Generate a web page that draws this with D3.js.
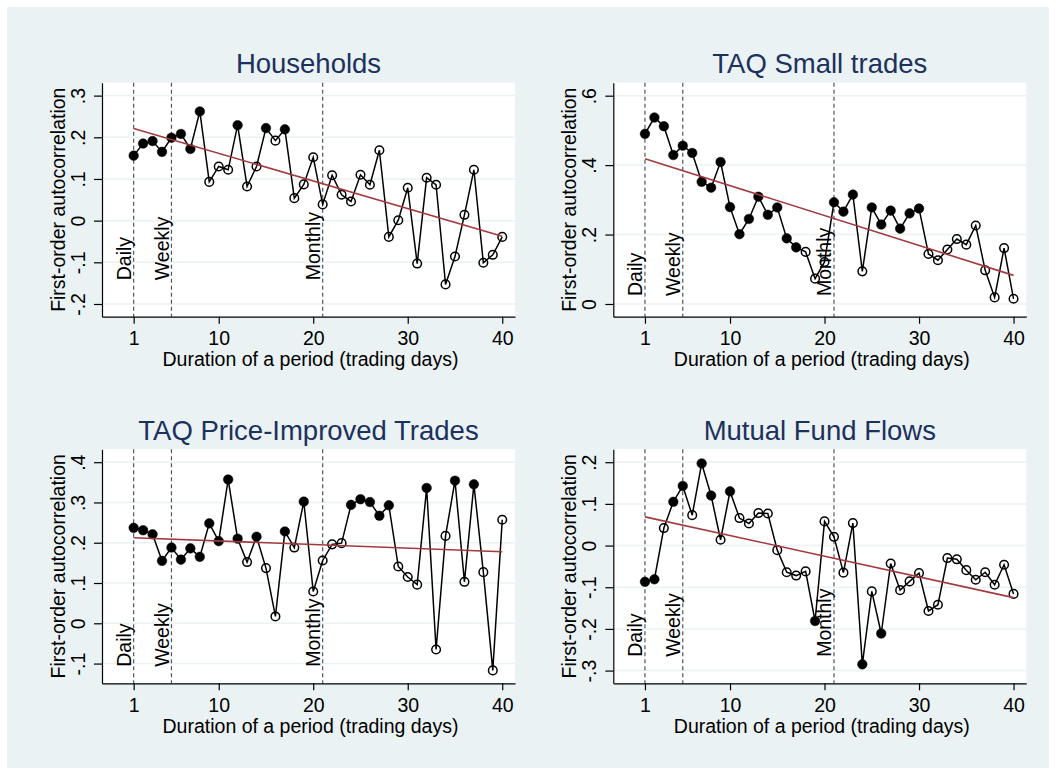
<!DOCTYPE html>
<html lang="en">
<head>
<meta charset="utf-8">
<title>First-order autocorrelation by period length</title>
<script src="https://d3js.org/d3.v7.min.js"></script>
<style>
  body { margin: 0; background: #fff; }
  text { font-family: "Liberation Sans", Arial, sans-serif; }
</style>
</head>
<body>
<script>
// ---- data ----
var days = [1,2,3,4,5,6,7,8,9,10,11,12,13,14,15,16,17,18,19,20,
            21,22,23,24,25,26,27,28,29,30,31,32,33,34,35,36,37,38,39,40];

var titles = ["Households", "TAQ Small trades", "TAQ Price-Improved Trades", "Mutual Fund Flows"];

var households = [0.156,0.185,0.191,0.165,0.199,0.208,0.172,0.262,0.093,0.130,
                  0.122,0.229,0.082,0.130,0.222,0.192,0.219,0.054,0.087,0.152,
                  0.039,0.109,0.062,0.046,0.110,0.086,0.169,-0.039,0.001,0.079,
                  -0.103,0.103,0.086,-0.153,-0.086,0.014,0.122,-0.101,-0.082,-0.039];
var householdsSig = [1,1,1,1,1,1,1,1,0,0, 0,1,0,0,1,0,1,0,0,0,
                     0,0,0,0,0,0,0,0,0,0, 0,0,0,0,0,0,0,0,0,0];

var smallTrades = [0.490,0.537,0.512,0.429,0.456,0.435,0.352,0.335,0.409,0.279,
                   0.201,0.245,0.309,0.257,0.278,0.189,0.163,0.150,0.073,0.121,
                   0.293,0.266,0.315,0.094,0.278,0.229,0.269,0.217,0.261,0.275,
                   0.144,0.126,0.157,0.187,0.171,0.226,0.097,0.019,0.161,0.015];
var smallTradesSig = [1,1,1,1,1,1,1,1,1,1, 1,1,1,1,1,1,1,0,0,0,
                      1,1,1,0,1,1,1,1,1,1, 0,0,0,0,0,0,0,0,0,0];

var priceImproved = [0.237,0.231,0.221,0.155,0.188,0.158,0.186,0.165,0.248,0.204,
                     0.357,0.210,0.152,0.215,0.137,0.017,0.228,0.188,0.302,0.079,
                     0.156,0.196,0.199,0.294,0.308,0.301,0.267,0.293,0.141,0.115,
                     0.096,0.336,-0.065,0.217,0.354,0.103,0.345,0.127,-0.117,0.257];
var priceImprovedSig = [1,1,1,1,1,1,1,1,1,1, 1,1,0,1,0,0,1,0,1,0,
                        0,0,0,1,1,1,1,1,0,0, 0,1,0,0,1,0,1,0,0,0];

var fundFlows = [-0.087,-0.081,0.042,0.105,0.143,0.073,0.197,0.120,0.014,0.130,
                 0.066,0.053,0.078,0.077,-0.011,-0.064,-0.072,-0.062,-0.181,0.058,
                 0.021,-0.065,0.054,-0.285,-0.110,-0.211,-0.043,-0.107,-0.086,-0.066,
                 -0.157,-0.142,-0.030,-0.033,-0.059,-0.082,-0.064,-0.094,-0.046,-0.116];
var fundFlowsSig = [1,1,0,1,1,0,1,1,0,1, 0,0,0,0,0,0,0,0,1,0,
                    0,0,0,1,0,1,0,0,0,0, 0,0,0,0,0,0,0,0,0,0];

var xTicks = [1, 10, 20, 30, 40];
var yTicks = [[-0.2,-0.1,0,0.1,0.2,0.3], [0,0.2,0.4,0.6], [-0.1,0,0.1,0.2,0.3,0.4], [-0.3,-0.2,-0.1,0,0.1,0.2]];
var yDomains = [[-0.2305,0.331], [-0.0366,0.6374], [-0.149,0.432], [-0.3305,0.231]];

var periodNames = ["Daily", "Weekly", "Monthly"];
var periodDays = [1, 5, 21];
var periodLabelY = [-0.143, 0.023, -0.108, -0.267];

var series = [households, smallTrades, priceImproved, fundFlows];
var signif = [householdsSig, smallTradesSig, priceImprovedSig, fundFlowsSig];

// ---- layout ----
var W = 1056, H = 775;
var colLeft = [102, 613.3], rowTop = [82.7, 449.3];
var pw = 413, ph = 234;
var bg = "#eaf2f3", navy = "#1c315e", fitColor = "#a2393f";
var font = "Liberation Sans, Arial, sans-serif";

var svg = d3.select("body").append("svg").attr("width", W).attr("height", H);
svg.append("rect").attr("x", 7).attr("y", 7).attr("width", W - 14).attr("height", H - 14).attr("fill", bg);

// Stata style labels: .3  -.2  0
function fmt(v) {
  if (Math.abs(v) < 1e-9) return "0";
  return v.toFixed(1).replace(/^(-?)0\./, "$1.");
}

function fitLine(xs, ys) {
  var mx = d3.mean(xs), my = d3.mean(ys);
  var sxy = 0, sxx = 0;
  for (var i = 0; i < xs.length; i++) {
    sxy += (xs[i] - mx) * (ys[i] - my);
    sxx += (xs[i] - mx) * (xs[i] - mx);
  }
  var b = sxy / sxx;
  return function(x) { return my + b * (x - mx); };
}

series.forEach(function(vals, p) {
  var left = colLeft[p % 2], top = rowTop[Math.floor(p / 2)];
  var g = svg.append("g").attr("transform", "translate(" + left + "," + top + ")");

  var x = d3.scaleLinear().domain([-2.35, 41.35]).range([0, pw]);
  var y = d3.scaleLinear().domain(yDomains[p]).range([ph, 0]);

  g.append("rect").attr("width", pw).attr("height", ph).attr("fill", "#fff");

  // grid
  g.selectAll(".grid").data(yTicks[p]).enter().append("line")
    .attr("x1", 0).attr("x2", pw)
    .attr("y1", function(d) { return y(d); }).attr("y2", function(d) { return y(d); })
    .attr("stroke", bg).attr("stroke-width", 1.5);

  // period markers
  g.selectAll(".vline").data(periodDays).enter().append("line")
    .attr("x1", function(d) { return x(d); }).attr("x2", function(d) { return x(d); })
    .attr("y1", 0).attr("y2", ph)
    .attr("stroke", "#555").attr("stroke-width", 1.2).attr("stroke-dasharray", "4,3");

  // connected series
  var pts = days.map(function(d, i) { return [d, vals[i], signif[p][i]]; });
  g.append("path").datum(pts)
    .attr("d", d3.line().x(function(d) { return x(d[0]); }).y(function(d) { return y(d[1]); }))
    .attr("fill", "none").attr("stroke", "#000").attr("stroke-width", 1.5);

  g.selectAll(".pt").data(pts).enter().append("circle")
    .attr("cx", function(d) { return x(d[0]); })
    .attr("cy", function(d) { return y(d[1]); })
    .attr("r", function(d) { return d[2] ? 4.8 : 4.3; })
    .attr("fill", function(d) { return d[2] ? "#000" : "none"; })
    .attr("stroke", "#000").attr("stroke-width", function(d) { return d[2] ? 0.5 : 1.5; });

  // linear fit
  var f = fitLine(days, vals);
  var xEnds = d3.extent(days);
  g.append("line")
    .attr("x1", x(xEnds[0])).attr("y1", y(f(xEnds[0])))
    .attr("x2", x(xEnds[1])).attr("y2", y(f(xEnds[1])))
    .attr("stroke", fitColor).attr("stroke-width", 1.6);

  // period labels
  g.selectAll(".plab").data(periodNames).enter().append("text")
    .attr("transform", function(d, i) {
      return "translate(" + (x(periodDays[i]) - 2.5) + "," + y(periodLabelY[p]) + ") rotate(-90)";
    })
    .attr("font-size", 19.5).attr("fill", "#000")
    .text(function(d) { return d; });

  // axes
  var xa = g.append("g").attr("transform", "translate(0," + ph + ")")
    .call(d3.axisBottom(x).tickValues(xTicks).tickSize(7).tickSizeOuter(0));
  xa.selectAll("text").attr("y", 28.5).attr("dy", 0).attr("font-size", 19.5)
    .attr("font-family", font).attr("fill", "#000");

  var ya = g.append("g")
    .call(d3.axisLeft(y).tickValues(yTicks[p]).tickFormat(fmt).tickSize(8).tickSizeOuter(0));
  ya.selectAll("text").attr("x", 0).attr("y", -17).attr("dy", 0)
    .attr("transform", "rotate(-90)").attr("text-anchor", "middle")
    .attr("font-size", 19.5).attr("font-family", font).attr("fill", "#000");

  [xa, ya].forEach(function(a) {
    a.select(".domain").attr("stroke", "#000").attr("stroke-width", 1.2);
    a.selectAll(".tick line").attr("stroke", "#000").attr("stroke-width", 1.2);
  });

  // titles
  g.append("text").attr("x", pw / 2).attr("y", -9.5).attr("text-anchor", "middle")
    .attr("font-size", 27.5).attr("fill", navy).text(titles[p]);

  g.append("text").attr("x", pw / 2 + 2).attr("y", ph + 49.5).attr("text-anchor", "middle")
    .attr("font-size", 19.5).attr("fill", "#000").text("Duration of a period (trading days)");

  g.append("text").attr("transform", "translate(-37.5," + (ph / 2) + ") rotate(-90)")
    .attr("text-anchor", "middle").attr("font-size", 19.5).attr("fill", "#000")
    .text("First-order autocorrelation");
});
</script>
</body>
</html>
